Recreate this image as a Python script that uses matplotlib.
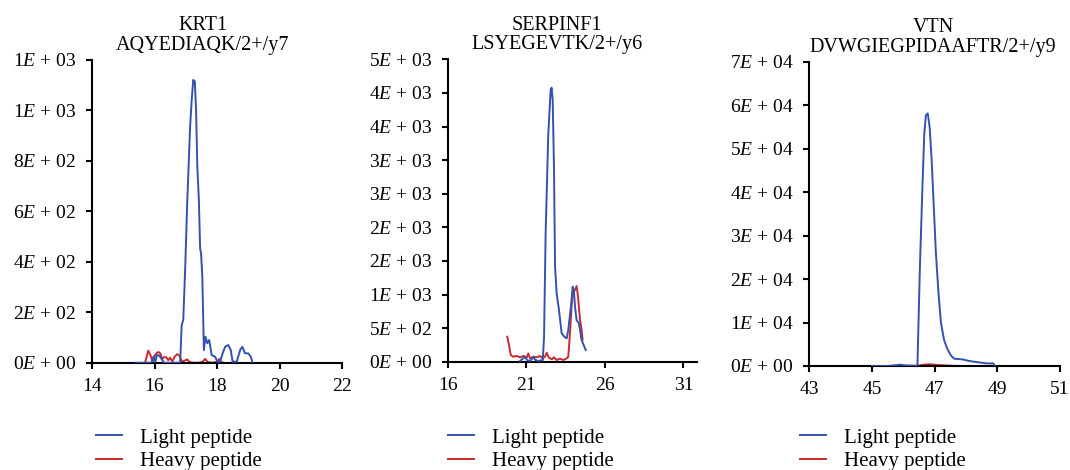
import numpy as np
import matplotlib
matplotlib.use('Agg')
import matplotlib.pyplot as plt
from matplotlib.ticker import FuncFormatter

plt.rcParams['font.family'] = 'Liberation Serif'
plt.rcParams['mathtext.fontset'] = 'custom'
plt.rcParams['mathtext.rm'] = 'Liberation Serif'
plt.rcParams['mathtext.it'] = 'Liberation Serif:italic'

BLUE = '#3352b0'
RED = '#c62a2f'

# KRT1
krt1_light_x = [15.4, 15.9, 15.97, 16.03, 16.08, 16.13, 16.2, 16.3, 16.82, 16.87, 16.92, 16.98,
                17.05, 17.14, 17.19, 17.24, 17.29, 17.33, 17.37, 17.42, 17.46, 17.49, 17.53,
                17.58, 17.63, 17.69, 17.75, 17.83, 17.94, 18.01, 18.10, 18.18, 18.26, 18.36,
                18.44, 18.50, 18.63, 18.74, 18.81, 18.90, 19.00, 19.08, 19.14]
krt1_light_y = [0, 0, 25, 5, 30, 30, 20, 0, 0, 149, 169, 367, 645, 936, 1041, 1121, 1115, 1002,
                777, 645, 453, 433, 341, 50, 103, 77, 90, 30, 24, 4, 4, 37, 63, 70, 50, 4, 4,
                50, 63, 37, 37, 24, 0]
krt1_heavy_x = [15.70, 15.80, 15.87, 15.94, 16.02, 16.08, 16.13, 16.18, 16.25, 16.31, 16.37,
                16.44, 16.50, 16.57, 16.65, 16.73, 16.80, 16.88, 16.96, 17.05, 17.12, 17.25,
                17.45, 17.55, 17.62, 17.70, 17.85, 18.00, 18.07, 18.13, 18.20]
krt1_heavy_y = [0, 48, 30, 4, 30, 40, 42, 38, 15, 22, 22, 10, 20, 5, 25, 34, 28, 5, 8, 13, 3,
                0, 0, 5, 15, 3, 0, 3, 15, 3, 0]

# SERPINF1
serp_light_x = [20.6, 20.75, 20.92, 21.05, 21.25, 21.45, 21.55, 21.75, 22.05, 22.13, 22.23,
                22.40, 22.55, 22.61, 22.68, 22.76, 22.83, 22.93, 23.08, 23.25, 23.42, 23.57,
                23.67, 23.84, 23.95, 24.03, 24.10, 24.20, 24.35, 24.52, 24.78]
serp_light_y = [10, 40, 74, 25, 10, 74, 30, 10, 25, 372, 1910, 3398, 4043, 4078, 3894, 2902,
                1414, 1017, 769, 422, 372, 347, 471, 819, 1116, 1050, 819, 620, 570, 322, 174]
serp_heavy_x = [19.79, 19.92, 20.01, 20.17, 20.39, 20.60, 20.81, 21.03, 21.13, 21.24, 21.45,
                21.66, 21.87, 22.04, 22.19, 22.30, 22.42, 22.62, 22.76, 22.93, 23.14, 23.36,
                23.57, 23.67, 23.78, 23.89, 23.99, 24.10, 24.20, 24.29, 24.42, 24.52, 24.58]
serp_heavy_y = [372, 223, 100, 74, 85, 65, 85, 65, 124, 50, 74, 65, 85, 50, 74, 134, 65, 35,
                65, 25, 45, 25, 50, 74, 422, 869, 1042, 1067, 1126, 967, 620, 472, 330]

# VTN
vtn_light_x = [45.0, 45.5, 45.9, 46.1, 46.45, 46.53, 46.61, 46.67, 46.72, 46.78, 46.84, 46.90,
               46.97, 47.04, 47.12, 47.20, 47.30, 47.40, 47.52, 47.62, 47.75, 47.91, 48.07,
               48.24, 48.45, 48.66, 48.87, 48.93]
vtn_light_y = [0, 0, 300, 100, 0, 22850, 41240, 53500, 57700, 58100, 55000, 48000, 37000,
               26000, 17000, 10000, 6000, 4000, 2400, 1700, 1600, 1500, 1200, 1000, 800, 600,
               600, 0]
vtn_heavy_x = [45.0, 45.5, 46.0, 46.5, 46.7, 46.85, 47.0, 47.3, 47.6, 47.86]
vtn_heavy_y = [0, 0, 50, 100, 350, 400, 300, 150, 50, 0]

titles = ['KRT1\nAQYEDIAQK/2+/y7', 'SERPINF1\nLSYEGEVTK/2+/y6', 'VTN\nDVWGIEGPIDAAFTR/2+/y9']
krt1_xticks = [14, 16, 18, 20, 22]
serp_xticks = [16, 21, 26, 31]
vtn_xticks = [43, 45, 47, 49, 51]


def excel_sci(v, pos):
    # Excel style "0E+00" with round-half-up mantissa
    if v <= 0:
        return r'$0E\,+\,00$'
    e = int(np.floor(np.log10(v) + 1e-9))
    m = int(np.floor(v / 10 ** e + 0.5))
    if m == 10:
        m, e = 1, e + 1
    return r'$%dE\,+\,%02d$' % (m, e)


fig = plt.figure(figsize=(10.7, 4.7), dpi=100)

panels = [
    dict(rect=[92, 60, 342, 362.7], xlim=(14, 22), xticks=krt1_xticks, ylim=(0, 1200), ystep=200,
         light=(krt1_light_x, krt1_light_y), heavy=(krt1_heavy_x, krt1_heavy_y),
         title_x=203, legend_x=96),
    dict(rect=[447.7, 59.3, 697, 361.7], xlim=(16, 31.86), xticks=serp_xticks, ylim=(0, 4500),
         ystep=500, light=(serp_light_x, serp_light_y), heavy=(serp_heavy_x, serp_heavy_y),
         title_x=557, legend_x=448),
    dict(rect=[809.3, 61.7, 1060, 366], xlim=(43, 51), xticks=vtn_xticks, ylim=(0, 70000),
         ystep=10000, light=(vtn_light_x, vtn_light_y), heavy=(vtn_heavy_x, vtn_heavy_y),
         title_x=933, legend_x=800),
]

W, H = 1070, 470
for p, title in zip(panels, titles):
    l, t, r, b = p['rect']
    ax = fig.add_axes([l / W, 1 - b / H, (r - l) / W, (b - t) / H])
    ax.plot(*p['heavy'], color=RED, lw=1.4, label='Heavy peptide', zorder=2)
    ax.plot(*p['light'], color=BLUE, lw=1.4, label='Light peptide', zorder=3)
    ax.set_xlim(*p['xlim'])
    ax.set_ylim(*p['ylim'])
    ax.set_xticks(p['xticks'])
    ax.set_yticks(np.arange(0, p['ylim'][1] + 1, p['ystep']))
    ax.yaxis.set_major_formatter(FuncFormatter(excel_sci))
    for s in ['top', 'right']:
        ax.spines[s].set_visible(False)
    for s in ['left', 'bottom']:
        ax.spines[s].set_linewidth(1.5)
    ax.tick_params(direction='out', length=4, width=1.5, labelsize=14, pad=7)
    ax.text((p['title_x'] - l) / (r - l), 1 + 5 / (b - t), title, transform=ax.transAxes,
            ha='center', va='bottom', fontsize=14.5, linespacing=1.05)
    handles, labels = ax.get_legend_handles_labels()
    fig.legend(handles[::-1], labels[::-1], loc='upper left',
               bbox_to_anchor=(p['legend_x'] / W, 1 - 428 / H), frameon=False,
               fontsize=15, handlelength=1.25, handletextpad=0.87, labelspacing=0.18,
               borderaxespad=0, borderpad=0)

fig.savefig('out.png', dpi=100)
